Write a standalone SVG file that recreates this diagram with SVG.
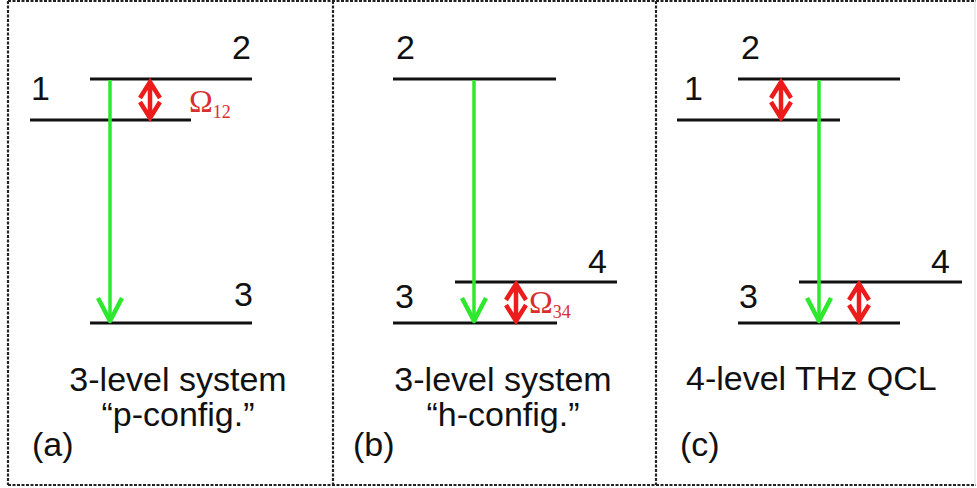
<svg xmlns="http://www.w3.org/2000/svg" width="977" height="488" viewBox="0 0 977 488">
<style>
.frame{fill:none;stroke:#222;stroke-width:2.2;stroke-dasharray:3 1.5}
.lvl{stroke:#111;stroke-width:3;fill:none}
.lbl{font-family:"Liberation Sans",Arial,sans-serif;font-size:34px;fill:#111}
.om{font-family:"Liberation Serif","Times New Roman",serif;fill:#d9302f}
.green{stroke:#2ee82e;stroke-width:3.5;fill:none}
.greenhead{stroke:#2ee82e;stroke-width:4.5;fill:none;stroke-linejoin:round}
.red{stroke:#ec1c1c;stroke-width:4.5;fill:none;stroke-linejoin:miter}
</style>
<rect width="977" height="488" fill="#fff"/>
<g id="frames">
<line class="frame" x1="8" y1="1" x2="976" y2="1"/>
<line class="frame" x1="8" y1="485" x2="976" y2="485"/>
<line class="frame" x1="8" y1="1" x2="8" y2="485"/>
<line class="frame" x1="333" y1="1" x2="333" y2="485"/>
<line class="frame" x1="656" y1="1" x2="656" y2="485"/>
<line x1="975" y1="1" x2="975" y2="485" stroke="#ddd" stroke-width="1"/>
</g>
<!-- Panel a -->
<g id="a-level2"><line class="lvl" x1="90" y1="79" x2="252" y2="79"/><text class="lbl" x="232" y="59">2</text></g>
<g id="a-level1"><line class="lvl" x1="30" y1="120" x2="191" y2="120"/><text class="lbl" x="31" y="100">1</text></g>
<g id="a-level3"><line class="lvl" x1="90" y1="323" x2="252" y2="323"/><text class="lbl" x="234" y="306">3</text></g>
<g id="a-omega"><text class="om" x="189" y="112" font-size="32">Ω<tspan font-size="18" dy="6">12</tspan></text></g>
<g id="a-caption"><text class="lbl" x="178" y="391" text-anchor="middle">3-level system</text><text class="lbl" x="178" y="426" text-anchor="middle">“p-config.”</text><text class="lbl" x="32" y="456">(a)</text></g>
<!-- Panel b -->
<g id="b-level2"><line class="lvl" x1="393" y1="79" x2="556" y2="79"/><text class="lbl" x="396" y="59">2</text></g>
<g id="b-level4"><line class="lvl" x1="455" y1="282" x2="617" y2="282"/><text class="lbl" x="588" y="273">4</text></g>
<g id="b-level3"><line class="lvl" x1="393" y1="323" x2="557" y2="323"/><text class="lbl" x="395" y="308">3</text></g>
<g id="b-omega"><text class="om" x="529" y="313" font-size="32">Ω<tspan font-size="18" dy="5">34</tspan></text></g>
<g id="b-caption"><text class="lbl" x="503" y="391" text-anchor="middle">3-level system</text><text class="lbl" x="503" y="426" text-anchor="middle">“h-config.”</text><text class="lbl" x="353" y="456">(b)</text></g>
<!-- Panel c -->
<g id="c-level2"><line class="lvl" x1="738" y1="79" x2="900" y2="79"/><text class="lbl" x="741" y="59">2</text></g>
<g id="c-level1"><line class="lvl" x1="677" y1="120" x2="840" y2="120"/><text class="lbl" x="684" y="100">1</text></g>
<g id="c-level4"><line class="lvl" x1="799" y1="282" x2="962" y2="282"/><text class="lbl" x="931" y="273">4</text></g>
<g id="c-level3"><line class="lvl" x1="738" y1="323" x2="900" y2="323"/><text class="lbl" x="739" y="308">3</text></g>
<g id="c-caption"><text class="lbl" x="686" y="390">4-level THz QCL</text><text class="lbl" x="680" y="456">(c)</text></g>
<g id="connectors">
<line class="green" x1="110" y1="80" x2="110" y2="320"/>
<path class="greenhead" d="M98,298 L110,321 L122,298"/>
<line class="green" x1="474" y1="80" x2="474" y2="320"/>
<path class="greenhead" d="M462,298 L474,321 L486,298"/>
<line class="green" x1="819" y1="80" x2="819" y2="320"/>
<path class="greenhead" d="M807,298 L819,321 L831,298"/>
<path class="red" d="M150,82 L150,118 M140,98 L150,82 L160,98 M140,102 L150,118 L160,102"/>
<path class="red" d="M781,82 L781,118 M771,98 L781,82 L791,98 M771,102 L781,118 L791,102"/>
<path class="red" d="M516,284 L516,321 M506,300 L516,284 L526,300 M506,305 L516,321 L526,305"/>
<path class="red" d="M859,284 L859,321 M849,300 L859,284 L869,300 M849,305 L859,321 L869,305"/>
</g>
</svg>
